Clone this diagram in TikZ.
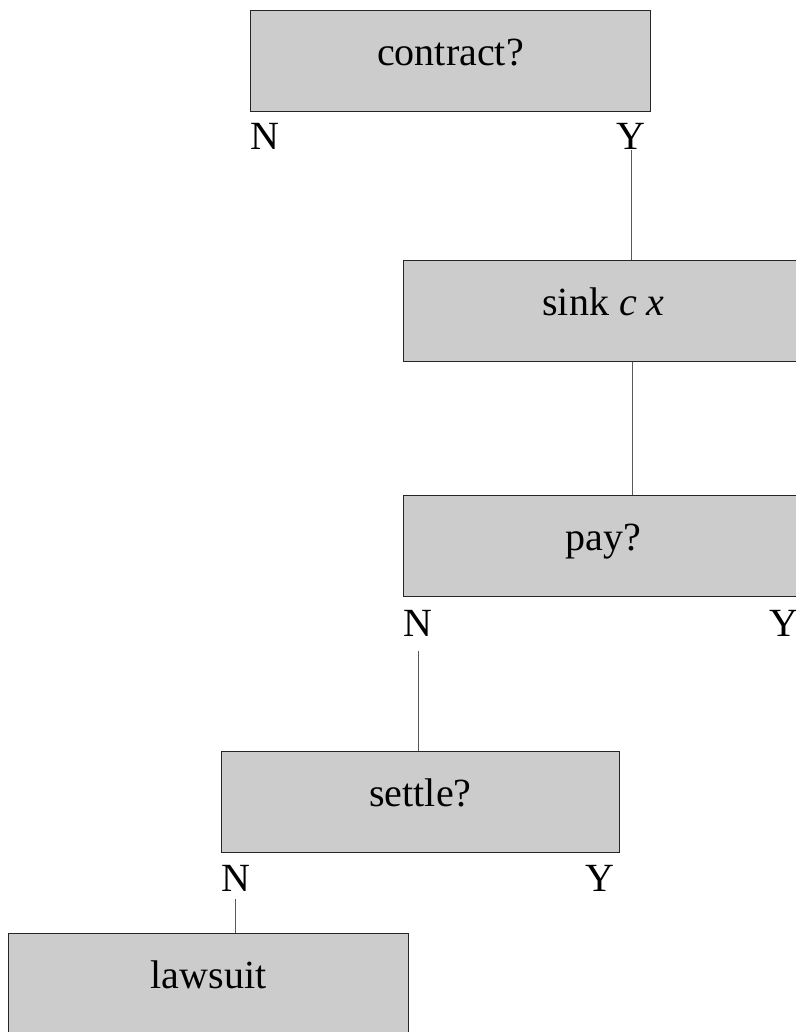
\documentclass[tikz,border=0pt]{standalone}
\usepackage{fontspec}
\setmainfont{Liberation Serif}
\begin{document}
\begin{tikzpicture}[x=1pt,y=-1pt,
  every node/.style={font=\fontsize{40}{48}\selectfont},
  decision/.style={draw=black!85, line width=1pt, fill=black!20, rectangle,
    anchor=north west, minimum width=400, minimum height=101,
    inner sep=0pt, text height=28pt, text depth=19pt},
  branch/.style={inner sep=0pt},
  edge/.style={draw=black!65, line width=1pt}]
\useasboundingbox (0,0) rectangle (795,1032);

% decision boxes
\node[decision] (contract) at (250,10)  {contract?};
\node[decision] (sink)     at (403,260) {sink \textit{c x}};
\node[decision] (pay)      at (403,495) {pay?};
\node[decision, minimum width=398] (settle) at (221,751) {settle?};
\node[decision] (lawsuit)  at (8,933)   {lawsuit};

% branch labels under the boxes
\node[branch, anchor=base west] (contractN) at ([yshift=-38pt]contract.south west) {N};
\node[branch, anchor=base east] (contractY) at ([xshift=-5pt,yshift=-38pt]contract.south east) {Y};
\node[branch, anchor=base west] (payN) at ([yshift=-39pt]pay.south west) {N};
\node[branch, anchor=base east] (payY) at ([xshift=-5pt,yshift=-39pt]pay.south east) {Y};
\node[branch, anchor=base west] (settleN) at ([yshift=-38pt]settle.south west) {N};
\node[branch, anchor=base east] (settleY) at ([xshift=-5pt,yshift=-38pt]settle.south east) {Y};

% connectors
\draw[edge] (contractY.base) -- (contractY.base |- sink.north);
\draw[edge] ([xshift=1.5pt]contractY.base |- sink.south) -- ([xshift=1.5pt]contractY.base |- pay.north);
\draw[edge] ([xshift=1pt,yshift=-15pt]payN.base) -- ([xshift=1pt]payN.base |- settle.north);
\draw[edge] ([yshift=-8pt]settleN.base) -- (settleN.base |- lawsuit.north);
\end{tikzpicture}
\end{document}
